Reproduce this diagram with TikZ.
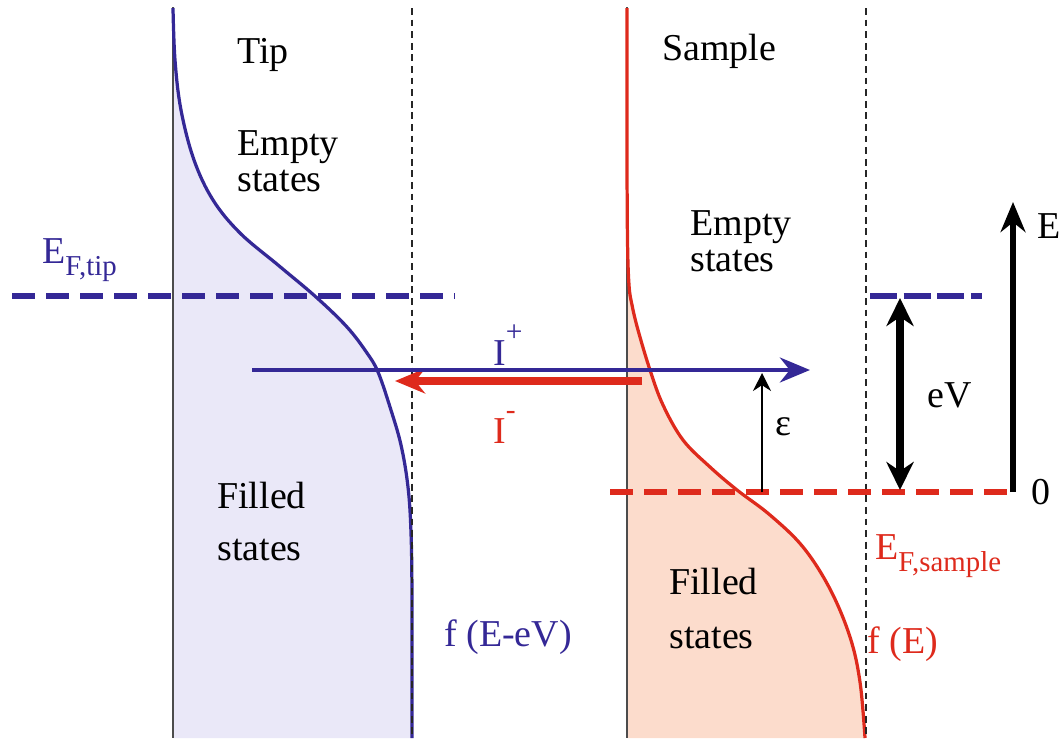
\documentclass[tikz,border=0pt]{standalone}
\usepackage{fontspec}
\setmainfont{Liberation Serif}
\usepackage{tikz}
\usetikzlibrary{
	arrows.meta,
	positioning
}
\usepackage{xcolor}

\definecolor{tipblue}{RGB}{52,40,150}
\definecolor{samplered}{RGB}{222,42,28}
\definecolor{tipfill}{RGB}{234,232,248}
\definecolor{samplefill}{RGB}{252,220,204}

\newcommand{\lbl}{\fontsize{27}{26}\selectfont}
\newcommand{\lowidx}[1]{\raisebox{-9pt}{\fontsize{20.5}{20.5}\selectfont #1}}
\newcommand{\highidx}[1]{\raisebox{17pt}{\fontsize{21}{21}\selectfont #1}}

\begin{document}
\begin{tikzpicture}[
			x=0.025cm, y=-0.025cm,
			>=Stealth,
			every node/.style={inner sep=0pt, font=\lbl},
			axisline/.style={draw=black!70, line width=1.1pt},
			guideline/.style={draw=black!85, line width=0.8pt, dash pattern=on 0.17cm off 0.12cm},
			fermilevel/.style={line width=3.6pt, dash pattern=on 0.58cm off 0.27cm},
			dosline/.style={line width=2.3pt},
			bigtip/.style={-{Stealth[length=0.75cm,width=0.62cm]}}
			]
			
			\useasboundingbox (0,0) rectangle (1064,738);
			
			% Filled states
			\fill[tipfill] (173,738) -- plot[smooth, tension=0.6] coordinates {(173,8) (175,60) (181,110) (194,160) (213,200) (240,233) (278,265) (316,297) (347,327) (367,353) (378,372) (390,407) (401,445) (408,487) (411,533) (412,600) (412,738)} -- cycle;
			\fill[samplefill] (627,738) -- plot[smooth, tension=0.6] coordinates {(627,8) (627,150) (627.5,240) (629,285) (632,305) (638,330) (650,370) (663,405) (683,440) (710,467) (737,490) (770,515) (803,547) (830,589) (850,637) (860,682) (865,738)} -- cycle;
			
			% Axes of tip and sample
			\draw[axisline] (173,7) -- (173,738);
			\draw[axisline] (627,7) -- (627,738);
			
			% Fermi functions
			\draw[dosline, tipblue] plot[smooth, tension=0.6] coordinates {(173,8) (175,60) (181,110) (194,160) (213,200) (240,233) (278,265) (316,297) (347,327) (367,353) (378,372) (390,407) (401,445) (408,487) (411,533) (412,600) (412,738)};
			\draw[dosline, samplered] plot[smooth, tension=0.6] coordinates {(627,8) (627,150) (627.5,240) (629,285) (632,305) (638,330) (650,370) (663,405) (683,440) (710,467) (737,490) (770,515) (803,547) (830,589) (850,637) (860,682) (865,738)};
			
			% Dotted guides
			\draw[guideline] (412,8) -- (412,738);
			\draw[guideline] (866,8) -- (866,738);
			
			% Fermi levels
			\draw[fermilevel, tipblue] (12,296) -- (455,296);
			\draw[fermilevel, tipblue, dash pattern=on 0.68cm off 0.16cm] (870,296) -- (982,296);
			\draw[fermilevel, samplered] (610,492) -- (1010,492);
			
			% Arrow end points
			\coordinate (iplus0) at (252,370);
			\coordinate (iplus1) at (810,370);
			\coordinate (iminus0) at (642,381);
			\coordinate (iminus1) at (395,381);
			\coordinate (eps0) at (762,492);
			\coordinate (eps1) at (762,373);
			\coordinate (ev0) at (900,298);
			\coordinate (ev1) at (900,490);
			\coordinate (e0) at (1013,492);
			\coordinate (e1) at (1013,202);
			
			% Currents
			\draw[samplered, line width=5pt, bigtip] (iminus0) -- (iminus1);
			\draw[tipblue, line width=3.4pt, bigtip] (iplus0) -- (iplus1);
			
			% Energies
			\draw[line width=1.1pt, -{Stealth[length=0.45cm,width=0.45cm]}] (eps0) -- (eps1);
			\draw[line width=5pt, {Stealth[length=0.7cm,width=0.68cm]}-{Stealth[length=0.7cm,width=0.68cm]}] (ev0) -- (ev1);
			\draw[line width=4.2pt, bigtip] (e0) -- (e1);
			
			% Labels
			\node[anchor=base west] (tipname) at (237,63) {Tip};
			\node[anchor=north west, align=left] (tipempty) at (237,130) {Empty\\states};
			\node[anchor=north west, align=left] (tipfilled) at (217,482) {Filled\\[11pt]states};
			\node[anchor=base west, text=tipblue] (eftip) at (42,263) {E\lowidx{F,tip}};
			\node[anchor=base west] (samplename) at (662,60) {Sample};
			\node[anchor=north west, align=left] (sampleempty) at (690,210) {Empty\\states};
			\node[anchor=north west, align=left] (samplefilled) at (669,568) {Filled\\[12pt]states};
			\node[anchor=base west, text=samplered] (efsample) at (875,559) {E\lowidx{F,sample}};
			\node[anchor=base west, text=tipblue] (ftip) at (444,646) {f (E-eV)};
			\node[anchor=base west, text=samplered] (fsample) at (867,653) {f (E)};
			\node[anchor=base west, text=tipblue] (iplus) at (493,365) {I\highidx{+}};
			\node[anchor=base west, text=samplered] (iminus) at (493,443) {I\highidx{-}};
			\node[anchor=base west] (epslbl) at (775,435) {ε};
			\node[anchor=base west] (evlbl) at (927,407) {eV};
			\node[anchor=base west] (elbl) at (1037,238) {E};
			\node[anchor=base west] (zerolbl) at (1031,504) {0};
			
		\end{tikzpicture}
\end{document}
